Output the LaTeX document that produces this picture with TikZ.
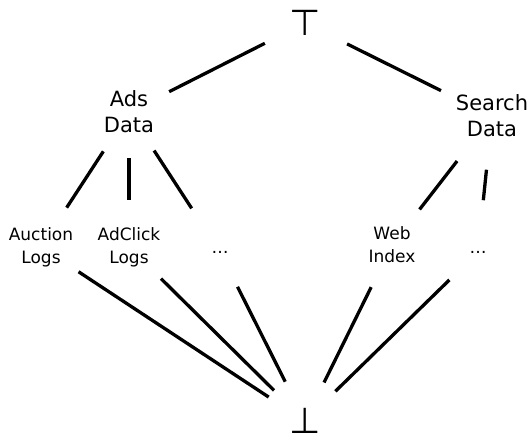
\documentclass[tikz,border=0pt]{standalone}
\usepackage{fontspec}
\setmainfont{DejaVu Sans}
\begin{document}
\begin{tikzpicture}[x=1pt, y=-1pt,
  upper/.style={font=\fontsize{21}{26}\selectfont, align=center, inner sep=0pt},
  lower/.style={font=\fontsize{17}{23}\selectfont, align=center, inner sep=0pt},
  lattice/.style={font=\fontsize{36}{40}\selectfont, inner sep=0pt},
  link/.style={line width=3.3pt},
  gap/.style 2 args={shorten <=#1pt, shorten >=#2pt}]
  \useasboundingbox (0,0) rectangle (531,440);

  % top and bottom elements
  \node[lattice] (top) at (305,23) {⊤};
  \node[lattice] (bot) at (305,421) {⊥};

  % data categories
  \node[upper] (ads) at (129,112) {Ads\\Data};
  \node[upper] (search) at (492,116) {Search\\Data};

  % data sources
  \node[lower] (auction) at (41,247) {Auction\\Logs};
  \node[lower] (adclick) at (129,247) {AdClick\\Logs};
  \node[lower, anchor=base] (more1) at (220,253) {…};
  \node[lower] (web) at (392,245) {Web\\Index};
  \node[lower, anchor=base] (more2) at (478,253) {…};

  % order relations
  \draw[link, gap={45}{45}] (top.center) -- (ads.center);
  \draw[link, gap={47}{57}] (top.center) -- (search.center);

  \draw[link, gap={47}{47}] (ads.center) -- (auction.center);
  \draw[link, gap={46}{47}] (ads.center) -- (adclick.center);
  \draw[link, gap={46}{52}] (ads.center) -- (more1.center);

  \draw[link, gap={57}{45}] (search.center) -- (web.center);
  \draw[link, gap={54}{52}] (search.center) -- (more2.center);

  \draw[link, gap={45}{43.5}] (auction.center) -- (bot.center);
  \draw[link, gap={45}{43.5}] (adclick.center) -- (bot.center);
  \draw[link, gap={39}{44}] (more1.center) -- (bot.center);
  \draw[link, gap={47}{43}] (web.center) -- (bot.center);
  \draw[link, gap={40}{42.5}] (more2.center) -- (bot.center);
\end{tikzpicture}
\end{document}
